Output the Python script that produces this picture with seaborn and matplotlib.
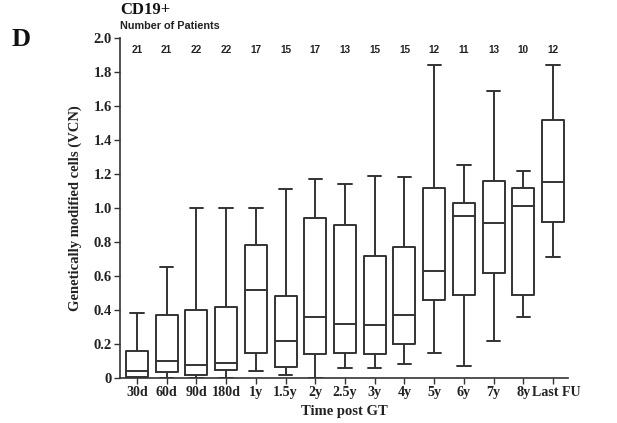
import numpy as np
import pandas as pd
import matplotlib
matplotlib.use("Agg")
import matplotlib.pyplot as plt
import matplotlib.transforms as mtransforms
import seaborn as sns

categories = ["30d", "60d", "90d", "180d", "1y", "1.5y", "2y", "2.5y", "3y", "4y",
              "5y", "6y", "7y", "8y", "Last FU"]
whisker_low = [0.0, 0.0, 0.0, 0.0, 0.04, 0.02, 0.0, 0.06, 0.06, 0.08, 0.15, 0.07, 0.22, 0.36, 0.71]
q1 = [0.005, 0.035, 0.02, 0.05, 0.15, 0.065, 0.14, 0.15, 0.14, 0.20, 0.46, 0.49, 0.62, 0.49, 0.92]
median = [0.04, 0.10, 0.075, 0.09, 0.52, 0.22, 0.36, 0.32, 0.31, 0.37, 0.63, 0.95, 0.91, 1.01, 1.15]
q3 = [0.16, 0.37, 0.40, 0.42, 0.78, 0.48, 0.94, 0.90, 0.72, 0.77, 1.12, 1.03, 1.16, 1.12, 1.52]
whisker_high = [0.38, 0.65, 1.0, 1.0, 1.0, 1.11, 1.17, 1.14, 1.19, 1.18, 1.84, 1.25, 1.69, 1.22, 1.84]
n_patients = [21, 21, 22, 22, 17, 15, 17, 13, 15, 15, 12, 11, 13, 10, 12]
y_ticks = [0, 0.2, 0.4, 0.6, 0.8, 1.0, 1.2, 1.4, 1.6, 1.8, 2.0]
y_tick_labels = ["0", "0.2", "0.4", "0.6", "0.8", "1.0", "1.2", "1.4", "1.6", "1.8", "2.0"]

rows = []
for i, c in enumerate(categories):
    for v in (whisker_low[i], q1[i], median[i], q3[i], whisker_high[i]):
        rows.append({"time": c, "vcn": v})
df = pd.DataFrame(rows)

sns.set_style("ticks")
plt.rcParams["font.family"] = ["Liberation Serif", "DejaVu Serif"]

fig = plt.figure(figsize=(6.17, 4.23), dpi=100)
ax = fig.add_axes([120 / 617, 1 - 378 / 423, (568 - 120) / 617, (378 - 38) / 423])

line_c = "#333333"
sns.boxplot(data=df, x="time", y="vcn", order=categories, whis=np.inf, fill=False,
            color=line_c, linewidth=1.4, width=0.74, ax=ax,
            capwidths=0.45, showfliers=False)

ax.set_ylim(0, 2.0)
ax.set_xlim(-0.57, 14.5)
ax.set_yticks(y_ticks)
ax.set_yticklabels(y_tick_labels, fontsize=10.5, fontweight="bold", color="#222222")
ax.set_xticks(range(len(categories)))
ax.set_xticklabels(categories, fontsize=10.1, fontweight="bold", color="#222222")
ax.tick_params(axis="both", direction="out", length=4, width=1, color=line_c, pad=2)
# nudge the last label a little so it just touches "8y" as in the reference
last = ax.get_xticklabels()[-1]
last.set_transform(last.get_transform() +
                   mtransforms.ScaledTranslation(3 / 100, 0, fig.dpi_scale_trans))
for s in ("top", "right"):
    ax.spines[s].set_visible(False)
for s in ("left", "bottom"):
    ax.spines[s].set_color(line_c)
    ax.spines[s].set_linewidth(1.2)

ax.set_xlabel("Time post GT", fontsize=10.5, fontweight="bold", color="#222222", labelpad=4)
ax.set_ylabel("Genetically modified cells (VCN)", fontsize=10.5, fontweight="bold",
              color="#222222", labelpad=8)

for i, n in enumerate(n_patients):
    ax.text(i, 1.93, str(n), ha="center", va="center", fontsize=7.2, fontweight="bold",
            family=["Liberation Sans", "DejaVu Sans"], color="#222222")

fig.text(120 / 617, 1 - 26 / 423, "Number of Patients", ha="left", va="center",
         fontsize=7.8, fontweight="bold", family=["Liberation Sans", "DejaVu Sans"],
         color="#222222")
fig.text(120 / 617, 1 - 10 / 423, "CD19+", ha="left", va="center", fontsize=12,
         fontweight="bold", color="#111111")
fig.text(12 / 617, 1 - 40 / 423, "D", ha="left", va="center", fontsize=19,
         fontweight="bold", color="#111111")

fig.savefig("out.png", dpi=100)
